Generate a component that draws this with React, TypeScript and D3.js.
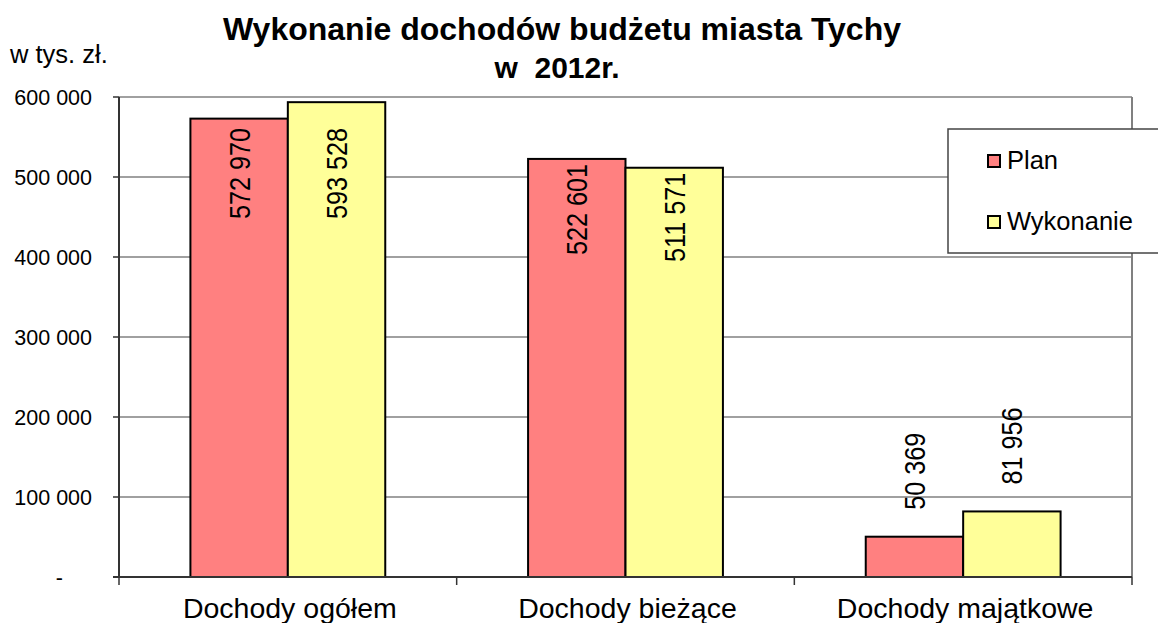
import React from "react";
import * as d3 from "d3";

const categories = ["Dochody ogółem", "Dochody bieżące", "Dochody majątkowe"];
const seriesNames = ["Plan", "Wykonanie"];
const planValues = [572970, 522601, 50369];
const wykonanieValues = [593528, 511571, 81956];
const yTicks = [0, 100000, 200000, 300000, 400000, 500000, 600000];
const titleLines = ["Wykonanie dochodów budżetu miasta Tychy", "w  2012r."];
const unitLabel = "w tys. zł.";

const colors = ["#FF8080", "#FFFF99"];
const FONT = "'Liberation Sans', Arial, sans-serif";

const W = 1158;
const H = 623;
const plot = { left: 119, right: 1132, top: 97, bottom: 577 };

const fmt = (v: number) => (v === 0 ? "-" : d3.format(",")(v).replace(/,/g, " "));

export default function App() {
  const y = d3.scaleLinear().domain([0, 600000]).range([plot.bottom, plot.top]);
  const x0 = d3.scaleBand<string>().domain(categories).range([plot.left, plot.right]).padding(0);
  const x1 = d3
    .scaleBand<string>()
    .domain(seriesNames)
    .range([0, x0.bandwidth()])
    .paddingInner(0)
    .paddingOuter(0.733);
  const seriesValues = [planValues, wykonanieValues];

  const boundaries = [...categories.map((c) => x0(c) as number), plot.right];

  return (
    <svg width={W} height={H} style={{ position: "absolute", left: 0, top: 0, background: "#fff" }}>
      <rect x={0} y={0} width={W} height={H} fill="#fff" />
      {/* gridlines */}
      {yTicks.map((t) => (
        <line key={"g" + t} x1={plot.left} x2={plot.right} y1={y(t)} y2={y(t)} stroke="#808080" strokeWidth={1.5} />
      ))}
      {/* right border */}
      <line x1={plot.right} x2={plot.right} y1={plot.top} y2={plot.bottom} stroke="#808080" strokeWidth={2} />
      {/* y tick marks */}
      {yTicks.map((t) => (
        <line key={"t" + t} x1={plot.left - 6} x2={plot.left} y1={y(t)} y2={y(t)} stroke="#333" strokeWidth={1.5} />
      ))}
      {/* y tick labels */}
      {yTicks.map((t) => (
        <text
          key={"l" + t}
          x={t === 0 ? 63 : 92}
          y={y(t)}
          dy="0.35em"
          textAnchor="end"
          fontFamily={FONT}
          fontSize={21.5}
          fill="#000"
        >
          {fmt(t)}
        </text>
      ))}
      {/* bars */}
      {categories.map((c, ci) =>
        seriesNames.map((s, si) => {
          const v = seriesValues[si][ci];
          const bx = (x0(c) as number) + (x1(s) as number);
          return (
            <rect
              key={c + s}
              x={bx}
              y={y(v)}
              width={x1.bandwidth()}
              height={y(0) - y(v)}
              fill={colors[si]}
              stroke="#000"
              strokeWidth={2}
            />
          );
        })
      )}
      {/* axes */}
      <line x1={plot.left} x2={plot.left} y1={plot.top} y2={plot.bottom} stroke="#333" strokeWidth={2} />
      <line x1={plot.left - 6} x2={plot.right} y1={plot.bottom} y2={plot.bottom} stroke="#333" strokeWidth={2} />
      {boundaries.map((bx, i) => (
        <line key={"xt" + i} x1={bx} x2={bx} y1={plot.bottom} y2={plot.bottom + 8} stroke="#333" strokeWidth={1.5} />
      ))}
      {/* data labels */}
      {categories.map((c, ci) =>
        seriesNames.map((s, si) => {
          const v = seriesValues[si][ci];
          const cx = (x0(c) as number) + (x1(s) as number) + x1.bandwidth() / 2;
          const top = y(v);
          const inside = y(0) - top > 150;
          const ay = inside ? Math.max(top + 5, 128) : top - 27;
          return (
            <text
              key={"dl" + c + s}
              transform={`translate(${cx},${ay}) rotate(-90) scale(0.84,1)`}
              dy="0.35em"
              textAnchor={inside ? "end" : "start"}
              fontFamily={FONT}
              fontSize={30}
              fill="#000"
            >
              {fmt(v)}
            </text>
          );
        })
      )}
      {/* category labels */}
      {categories.map((c) => (
        <text
          key={"c" + c}
          x={(x0(c) as number) + x0.bandwidth() / 2 + 2}
          y={618}
          textAnchor="middle"
          fontFamily={FONT}
          fontSize={28.5}
          fill="#000"
        >
          {c}
        </text>
      ))}
      {/* title */}
      <text x={562} y={40} textAnchor="middle" fontFamily={FONT} fontSize={32} fontWeight="bold" fill="#000">
        {titleLines[0]}
      </text>
      <text x={557} y={78} textAnchor="middle" fontFamily={FONT} fontSize={30} fontWeight="bold" fill="#000" xmlSpace="preserve" style={{ whiteSpace: "pre" }}>
        {titleLines[1]}
      </text>
      <text x={10} y={63} fontFamily={FONT} fontSize={25.5} fill="#000">
        {unitLabel}
      </text>
      {/* legend */}
      <rect x={948} y={129} width={230} height={124} fill="#fff" stroke="#444" strokeWidth={1.5} />
      {seriesNames.map((s, si) => (
        <g key={"lg" + s}>
          <rect x={988} y={155 + si * 61} width={12} height={12} fill={colors[si]} stroke="#000" strokeWidth={2} />
          <text x={1007} y={169 + si * 61} fontFamily={FONT} fontSize={25.5} fill="#000">
            {s}
          </text>
        </g>
      ))}
    </svg>
  );
}
